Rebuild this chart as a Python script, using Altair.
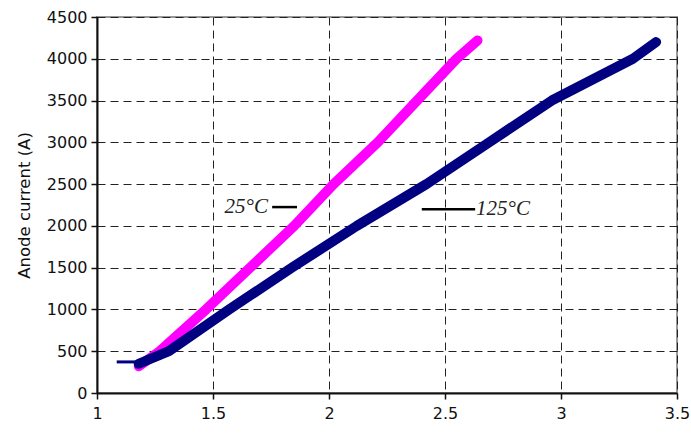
import altair as alt
import pandas as pd

# 25 °C curve (anode voltage V, anode current A)
v25 = [1.18, 1.27, 1.47, 1.66, 1.85, 2.02, 2.21, 2.38, 2.55, 2.64]
i25 = [320, 500, 1000, 1500, 2000, 2500, 3000, 3500, 4000, 4220]
# 125 °C curve
v125 = [1.18, 1.31, 1.57, 1.84, 2.12, 2.42, 2.69, 2.96, 3.31, 3.41]
i125 = [350, 500, 1000, 1500, 2000, 2500, 3000, 3500, 4000, 4200]
# thin lead-in segment of the 125 °C trace
v125_lead = [1.085, 1.19]
i125_lead = [372, 372]

x_ticks = [1, 1.5, 2, 2.5, 3, 3.5]
y_ticks = [0, 500, 1000, 1500, 2000, 2500, 3000, 3500, 4000, 4500]

labels = ["25°C", "125°C"]
label_x = [1.737, 2.634]
label_y = [2225, 2200]
leader_x1 = [1.755, 2.4]
leader_x2 = [1.862, 2.63]
leader_y = [2225, 2200]

df = pd.concat([
    pd.DataFrame({"V": v25, "I": i25, "T": "25"}),
    pd.DataFrame({"V": v125, "I": i125, "T": "125"}),
])
lead = pd.DataFrame({"V": v125_lead, "I": i125_lead})
lab = pd.DataFrame({"txt": labels, "x": label_x, "y": label_y})
lead_lines = pd.DataFrame({"x1": leader_x1, "x2": leader_x2, "y": leader_y})

xs = alt.Scale(domain=[1, 3.5], nice=False, zero=False)
ys = alt.Scale(domain=[0, 4500], nice=False)

common = dict(grid=True, gridDash=[8, 5], gridColor="#222", gridWidth=1,
              domainColor="#111", domainWidth=2, tickColor="#111", tickSize=6,
              tickWidth=1.5, labelFontSize=16, labelFont="DejaVu Sans",
              labelColor="#111", labelFlush=False)
xax = alt.Axis(values=x_ticks, title=None, format=".1~f", labelPadding=6,
               **common)
yax = alt.Axis(values=y_ticks, title="Anode current (A)", format="d",
               labelPadding=4, titleFont="DejaVu Sans", titleFontSize=16.5,
               titleFontWeight="normal", titleColor="#111", titlePadding=14,
               **common)

lines = alt.Chart(df).mark_line(strokeWidth=10, strokeCap="round",
                                strokeJoin="round").encode(
    x=alt.X("V:Q", scale=xs, axis=xax),
    y=alt.Y("I:Q", scale=ys, axis=yax),
    color=alt.Color("T:N", scale=alt.Scale(domain=["25", "125"],
                                           range=["#FF00FF", "#000080"]),
                    legend=None),
    detail="T:N",
)

lead_line = alt.Chart(lead).mark_line(strokeWidth=3, color="#000080").encode(
    x=alt.X("V:Q", scale=xs), y=alt.Y("I:Q", scale=ys))

leaders = alt.Chart(lead_lines).mark_rule(color="black", strokeWidth=2.5).encode(
    x=alt.X("x1:Q", scale=xs), x2="x2:Q", y=alt.Y("y:Q", scale=ys))

text_l = alt.Chart(lab.iloc[[0]]).mark_text(
    font="Liberation Serif", fontStyle="italic", fontSize=21, align="right",
    baseline="middle", color="#222").encode(
    x=alt.X("x:Q", scale=xs), y=alt.Y("y:Q", scale=ys), text="txt:N")
text_r = alt.Chart(lab.iloc[[1]]).mark_text(
    font="Liberation Serif", fontStyle="italic", fontSize=21, align="left",
    baseline="middle", color="#222").encode(
    x=alt.X("x:Q", scale=xs), y=alt.Y("y:Q", scale=ys), text="txt:N")

chart = alt.layer(lines, lead_line, leaders, text_l, text_r).properties(
    width=580, height=376,
    autosize=alt.AutoSizeParams(type="none"),
    padding={"left": 97, "top": 17, "right": 14, "bottom": 43},
    background="white",
).configure_view(stroke="#999", strokeWidth=2)

chart.save("out.html", embed_options={"renderer": "svg", "actions": False})
